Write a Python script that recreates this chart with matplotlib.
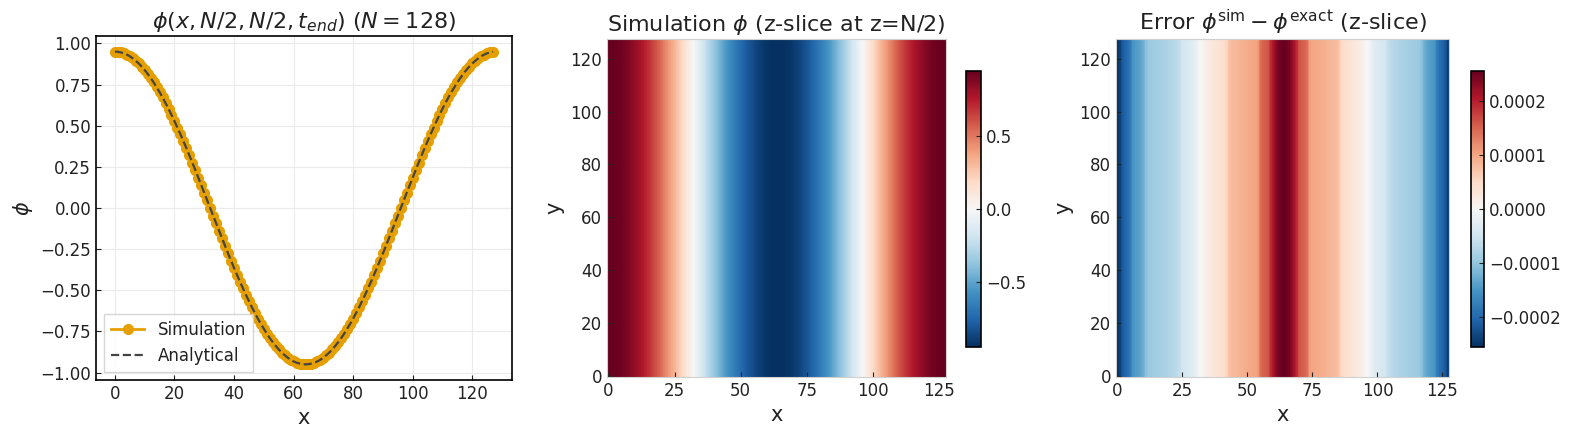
import numpy as np
import matplotlib
matplotlib.use("Agg")
import matplotlib.pyplot as plt

# grid size and x positions along the line
N = 128
x_idx = np.arange(N)

# phi along the x line through (N/2, N/2)
phi_line = [
    0.950, 0.949, 0.945, 0.940, 0.932, 0.922, 0.909, 0.894, 0.878, 0.859,
    0.838, 0.815, 0.790, 0.763, 0.734, 0.704, 0.672, 0.638, 0.603, 0.566,
    0.528, 0.488, 0.448, 0.406, 0.364, 0.320, 0.276, 0.231, 0.185, 0.139,
    0.093, 0.047, 0.000,
    -0.047, -0.093, -0.139, -0.185, -0.231, -0.276, -0.320, -0.364, -0.406,
    -0.448, -0.488, -0.528, -0.566, -0.603, -0.638, -0.672, -0.704, -0.734,
    -0.763, -0.790, -0.815, -0.838, -0.859, -0.878, -0.894, -0.909, -0.922,
    -0.932, -0.940, -0.945, -0.949, -0.950,
    -0.949, -0.945, -0.940, -0.932, -0.922, -0.909, -0.894, -0.878, -0.859,
    -0.838, -0.815, -0.790, -0.763, -0.734, -0.704, -0.672, -0.638, -0.603,
    -0.566, -0.528, -0.488, -0.448, -0.406, -0.364, -0.320, -0.276, -0.231,
    -0.185, -0.139, -0.093, -0.047, 0.000,
    0.047, 0.093, 0.139, 0.185, 0.231, 0.276, 0.320, 0.364, 0.406, 0.448,
    0.488, 0.528, 0.566, 0.603, 0.638, 0.672, 0.704, 0.734, 0.763, 0.790,
    0.815, 0.838, 0.859, 0.878, 0.894, 0.909, 0.922, 0.932, 0.940, 0.945,
    0.949,
]
# analytical curve is indistinguishable from the simulation at this scale
phi_exact_line = phi_line

err_line_e4 = [
    -2.55, -2.4, -2.15, -2.05, -1.95, -1.8, -1.5, -1.45, -1.4, -1.35,
    -1.25, -1.05, -0.95, -0.92, -0.9, -0.88, -0.86, -0.84, -0.82, -0.8,
    -0.77, -0.74, -0.7, -0.66, -0.6, -0.45, -0.42, -0.38, -0.34, -0.3,
    -0.22, -0.1, 0.0, 0.08, 0.15, 0.2, 0.25, 0.3, 0.33, 0.36,
    0.4, 0.45, 0.55, 0.75, 0.8, 0.82, 0.84, 0.86, 0.9, 0.92,
    0.94, 0.96, 0.98, 1.0, 1.05, 1.4, 1.5, 1.55, 1.6, 1.9,
    2.1, 2.3, 2.45, 2.5, 2.55,
    2.5, 2.45, 2.3, 2.1, 1.9, 1.6, 1.55, 1.5, 1.4, 1.05,
    1.0, 0.98, 0.96, 0.94, 0.92, 0.9, 0.86, 0.84, 0.82, 0.8,
    0.75, 0.55, 0.45, 0.4, 0.36, 0.33, 0.3, 0.25, 0.2, 0.15,
    0.08, 0.0, -0.1, -0.22, -0.3, -0.34, -0.38, -0.42, -0.45, -0.6,
    -0.66, -0.7, -0.74, -0.77, -0.8, -0.82, -0.84, -0.86, -0.88, -0.9,
    -0.92, -0.95, -1.05, -1.25, -1.35, -1.4, -1.45, -1.5, -1.8, -1.95,
    -2.05, -2.15, -2.4,
]

# fields in the z-slice: constant along y
phi_slice = np.tile(np.array(phi_line), (N, 1))
err_slice = np.tile(np.array(err_line_e4) * 1e-4, (N, 1))

plt.rcParams['font.family'] = ['DejaVu Sans']
plt.rcParams['text.color'] = '#222222'
plt.rcParams['axes.labelcolor'] = '#222222'
plt.rcParams['xtick.color'] = '#222222'
plt.rcParams['ytick.color'] = '#222222'

W, H = 1581, 441
fig = plt.figure(figsize=(W / 100, H / 100), dpi=100)

def box(x0, y0, x1, y1):
    # pixel box (top-left origin) -> figure fraction
    return [x0 / W, 1 - y1 / H, (x1 - x0) / W, (y1 - y0) / H]

# --- line plot
ax1 = fig.add_axes(box(96, 36, 512, 380))
ax1.plot(x_idx, phi_line, '-o', color='#E69F00', lw=2, ms=7, label='Simulation')
ax1.plot(x_idx, phi_exact_line, '--', color='#444444', lw=1.6, label='Analytical')
ax1.set_yticks(np.arange(-1.0, 1.01, 0.25))
ax1.set_xticks(np.arange(0, 121, 20))
ax1.grid(True, color='#ebebeb', lw=0.8)
ax1.set_axisbelow(True)
ax1.tick_params(direction='in', labelsize=12)
ax1.set_title(r'$\phi(x, N/2, N/2, t_{end})$ $(N = 128)$', fontsize=16)
ax1.set_xlabel('x', fontsize=15)
ax1.set_ylabel(r'$\phi$', fontsize=15)
for s in ax1.spines.values():
    s.set_linewidth(1.2)
    s.set_color('black')
ax1.legend(loc='lower left', fontsize=12, fancybox=False, edgecolor='#cccccc')

def field_panel(axbox, cbox, data, title, cticks=None):
    ax = fig.add_axes(box(*axbox))
    im = ax.imshow(data, origin='lower', cmap='RdBu_r', aspect='auto')
    ax.set_title(title, fontsize=16)
    ax.set_xlabel('x', fontsize=15)
    ax.set_ylabel('y', fontsize=15)
    ax.set_xticks(np.arange(0, 126, 25))
    ax.set_yticks(np.arange(0, 121, 20))
    ax.tick_params(direction='in', labelsize=12)
    for s in ax.spines.values():
        s.set_color('#d0d0d0')
    cax = fig.add_axes(box(*cbox))
    cb = fig.colorbar(im, cax=cax)
    if cticks is not None:
        cb.set_ticks(cticks)
    cb.ax.tick_params(direction='in', labelsize=12)
    cb.outline.set_linewidth(1.2)
    return ax

field_panel((607, 39, 946, 377), (966, 71, 981, 347), phi_slice,
            r'Simulation $\phi$ (z-slice at z=N/2)', cticks=[-0.5, 0.0, 0.5])
field_panel((1116, 39, 1449, 377), (1471, 71, 1484, 347), err_slice,
            r'Error $\phi^{\rm sim} - \phi^{\rm exact}$ (z-slice)')

fig.savefig('out.png', dpi=100)
